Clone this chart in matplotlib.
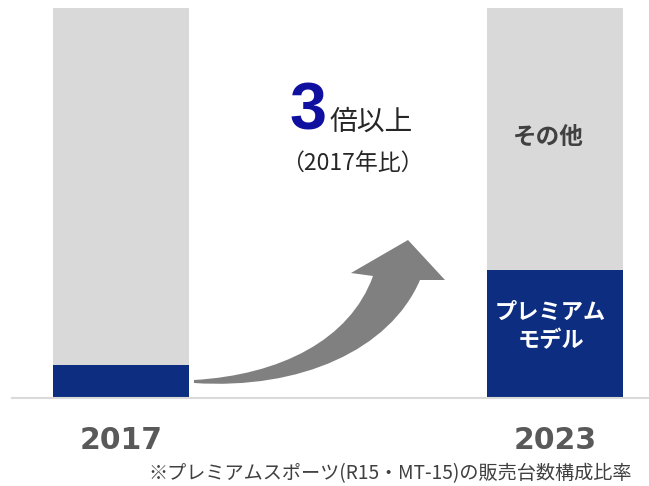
import numpy as np
import matplotlib
matplotlib.use('Agg')
from matplotlib import pyplot as plt
from matplotlib.path import Path
from matplotlib.patches import PathPatch

plt.rcParams['font.family'] = ['Noto Sans CJK JP', 'DejaVu Sans']

years = ['2017', '2023']
premium = [8.5, 32.8]
other = [100 - p for p in premium]

NAVY = '#0c2d80'
GRAY = '#d9d9d9'
TEXT = '#404040'

fig = plt.figure(figsize=(6.49, 4.86), dpi=100)
ax = fig.add_axes([0, 88 / 486, 1, 390 / 486])
x = np.arange(len(years))
ax.bar(x, premium, width=0.313, color=NAVY)
ax.bar(x, other, width=0.313, bottom=premium, color=GRAY)
ax.set_xlim(-121 / 434, 528 / 434)
ax.set_ylim(0, 100)
ax.axis('off')
ax.axhline(0, xmin=12 / 649, xmax=1, color='#d9d9d9', lw=1.5, clip_on=False)

for xi, yr in zip(x, years):
    ax.text(xi, -10.8, yr, ha='center', va='center', fontsize=21.5,
            fontweight='bold', color='#595959', family='DejaVu Sans', clip_on=False)

ax.text(1 - 0.015, 100 - (137 - 8) / 3.9, 'その他', ha='center', va='center',
        fontsize=17, fontweight='bold', color=TEXT)
ax.text(1 - 0.01, (398 - 327) / 3.9, 'プレミアム\nモデル', ha='center', va='center',
        fontsize=16, fontweight='bold', color='white', linespacing=1.3)


# curved arrow (decoration), pixel coords -> data coords
def px(u, v):
    return ((u - 121) / 434, (398 - v) / 3.9)


pts = [(194, 380), (280, 375), (350, 340), (373, 276),
       (351, 273), (408, 240), (445, 280), (420, 280),
       (390, 350), (300, 390), (194, 383), (194, 380)]
codes = [Path.MOVETO, Path.CURVE4, Path.CURVE4, Path.CURVE4,
         Path.LINETO, Path.LINETO, Path.LINETO, Path.LINETO,
         Path.CURVE4, Path.CURVE4, Path.CURVE4, Path.CLOSEPOLY]
ax.add_patch(PathPatch(Path([px(*p) for p in pts], codes), facecolor='#808080',
                       edgecolor='none', clip_on=False))

fig.text(327 / 649, 1 - 130 / 486, '3', ha='right', va='baseline', fontsize=48,
         fontweight='bold', color='#1010a0', family='Liberation Sans')
fig.text(329 / 649, 1 - 130 / 486, '倍以上', ha='left', va='baseline', fontsize=20,
         color='#262626')
fig.text(352 / 649, 1 - 163 / 486, '（2017年比）', ha='center', va='center',
         fontsize=16.5, color='#262626')

fig.text(632 / 649, 1 - 474 / 486, '※プレミアムスポーツ(R15・MT-15)の販売台数構成比率',
         ha='right', va='center', fontsize=13.8, color=TEXT)

fig.savefig('out.png', dpi=100)
